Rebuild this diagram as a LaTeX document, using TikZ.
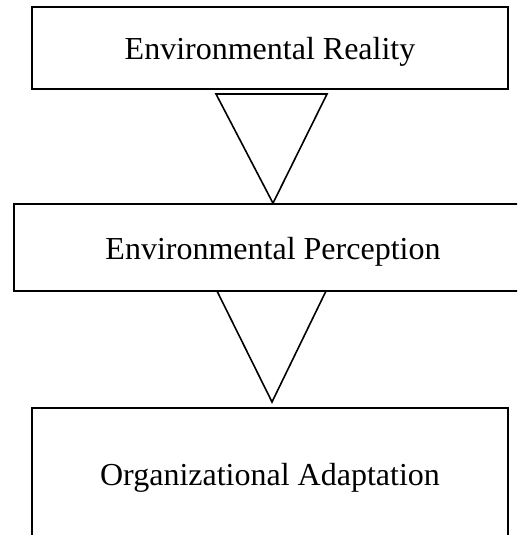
\documentclass[tikz,border=0pt]{standalone}
\usepackage{fontspec}
\setmainfont{Liberation Serif}
\usepackage{tikz}

\begin{document}
\begin{tikzpicture}[x=1pt, y=-1pt, line width=1.6pt,
        stage/.style = {draw, rectangle, inner sep=0pt, text height=23pt, text depth=0pt,
                        font=\fontsize{32}{38}\selectfont},
        funnel/.style = {draw, line join=miter}]
                \useasboundingbox (0,0) rectangle (517,535);
                \clip (0,0) rectangle (517,535);
                \node[stage, minimum width=476pt, minimum height=82pt] (er) at (270,48) {Environmental Reality};
                \node[stage, minimum width=518pt, minimum height=87pt] (ep) at (273,247.5) {Environmental Perception};
                \node[stage, minimum width=476pt, minimum height=132pt] (oa) at (270,474) {Organizational Adaptation};
                \coordinate (a1) at (216,94);
                \coordinate (b1) at (327,94);
                \coordinate (a2) at (217,291);
                \coordinate (b2) at (326,291);
                \coordinate (c2) at (272,402);
                \draw[funnel] (a1) -- (b1) -- (ep.north) -- cycle;
                \draw[funnel] (a2) -- (c2) -- (b2);
            \end{tikzpicture}
\end{document}
